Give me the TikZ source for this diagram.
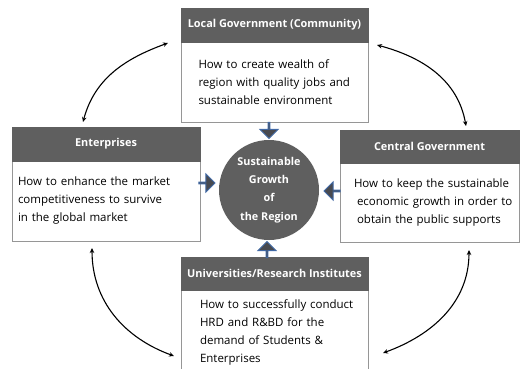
\documentclass[tikz,border=0pt]{standalone}
\usepackage{fontspec}
\setmainfont{Open Sans}
\usetikzlibrary{shapes.arrows,arrows.meta}
\definecolor{hdgray}{RGB}{95,95,95}
\definecolor{bdgray}{RGB}{150,150,150}
\definecolor{arrfill}{RGB}{72,74,80}
\definecolor{arrblue}{RGB}{65,105,165}
\tikzset{
  hdr/.style={draw=hdgray, fill=hdgray, text=white, font=\bfseries\fontsize{10.9}{12}\selectfont, inner sep=0pt},
  bodybox/.style={draw=bdgray, line width=0.8pt, fill=white, align=left, font=\fontsize{11.5}{18}\selectfont, inner ysep=0pt},
  blockarr/.style={single arrow, draw=arrblue, line width=0.9pt, fill=arrfill, minimum width=18pt, minimum height=16pt, single arrow head extend=4.5pt, single arrow head indent=0pt, inner sep=0pt},
  link/.style={line width=1.1pt, {Stealth[length=5pt,width=4.5pt]}-{Stealth[length=5pt,width=4.5pt]}}
}
\begin{document}
\begin{tikzpicture}[x=1pt,y=-1pt]
\useasboundingbox (0,0) rectangle (527,369);
% top
\node[bodybox, minimum width=187pt, minimum height=80pt, text width=160pt, inner xsep=13.5pt] (topb) at (274.5,82) {\mbox{\hspace*{4pt}How to create wealth of}\\\mbox{\hspace*{4pt}region with quality jobs and}\\\mbox{\hspace*{4pt}sustainable environment}};
\node[hdr, minimum width=187pt, minimum height=34pt] (toph) at (274.5,25) {Local Government (Community)};
% left
\node[bodybox, minimum width=188pt, minimum height=80pt, text width=178pt, inner xsep=5pt] (leftb) at (106,201) {\mbox{\hspace*{1pt}How to enhance the market}\\\mbox{\hspace*{1pt}competitiveness to survive}\\\mbox{\hspace*{1pt}in the global market}};
\node[hdr, minimum width=188pt, minimum height=34pt] (lefth) at (106,144) {Enterprises};
% right
\node[bodybox, minimum width=179pt, minimum height=79pt, text width=165pt, inner xsep=7pt] (rightb) at (429.5,202.5) {\mbox{\hspace*{7pt}How to keep the sustainable}\\\mbox{\hspace*{10pt}economic growth in order to}\\\mbox{\hspace*{10pt}obtain the public supports}};
\node[hdr, minimum width=179pt, minimum height=33pt] (righth) at (429.5,146.5) {Central Government};
% bottom
\node[bodybox, minimum width=187pt, minimum height=84pt, text width=165pt, inner xsep=11pt] (botb) at (274.5,332) {\mbox{\hspace*{8pt}How to successfully conduct}\\\mbox{\hspace*{8pt}HRD and R\&BD for the}\\\mbox{\hspace*{8pt}demand of Students \&}\\\mbox{\hspace*{8pt}Enterprises}};
\node[hdr, minimum width=187pt, minimum height=33pt] (both) at (274.5,273.5) {Universities/Research Institutes};
% centre
\node[circle, fill=hdgray, minimum size=100pt, inner sep=0pt, text=white, align=center, font=\bfseries\fontsize{10.8}{18.3}\selectfont] (goal) at (269,190) {Sustainable\\Growth\\of\\the Region};
% block arrows
\node[blockarr, shape border rotate=270] (a1) at (269,130) {};
\node[blockarr, shape border rotate=0] (a2) at (206.5,183) {};
\node[blockarr, shape border rotate=180] (a3) at (332.5,191) {};
\node[blockarr, shape border rotate=90] (a4) at (267,250) {};
% curved links
\coordinate (tl1) at (83,122);
\coordinate (tl2) at (168,43);
\coordinate (tr1) at (377,45);
\coordinate (tr2) at (466,126);
\coordinate (bl1) at (92,248);
\coordinate (bl2) at (174,356);
\coordinate (br1) at (469,250);
\coordinate (br2) at (383,353);
\draw[link] (tl1) to[out=75,in=200] (tl2);
\draw[link] (tr1) to[out=-15,in=100] (tr2);
\draw[link] (bl1) to[out=-90,in=160] (bl2);
\draw[link] (br1) to[out=-90,in=20] (br2);
\end{tikzpicture}
\end{document}
